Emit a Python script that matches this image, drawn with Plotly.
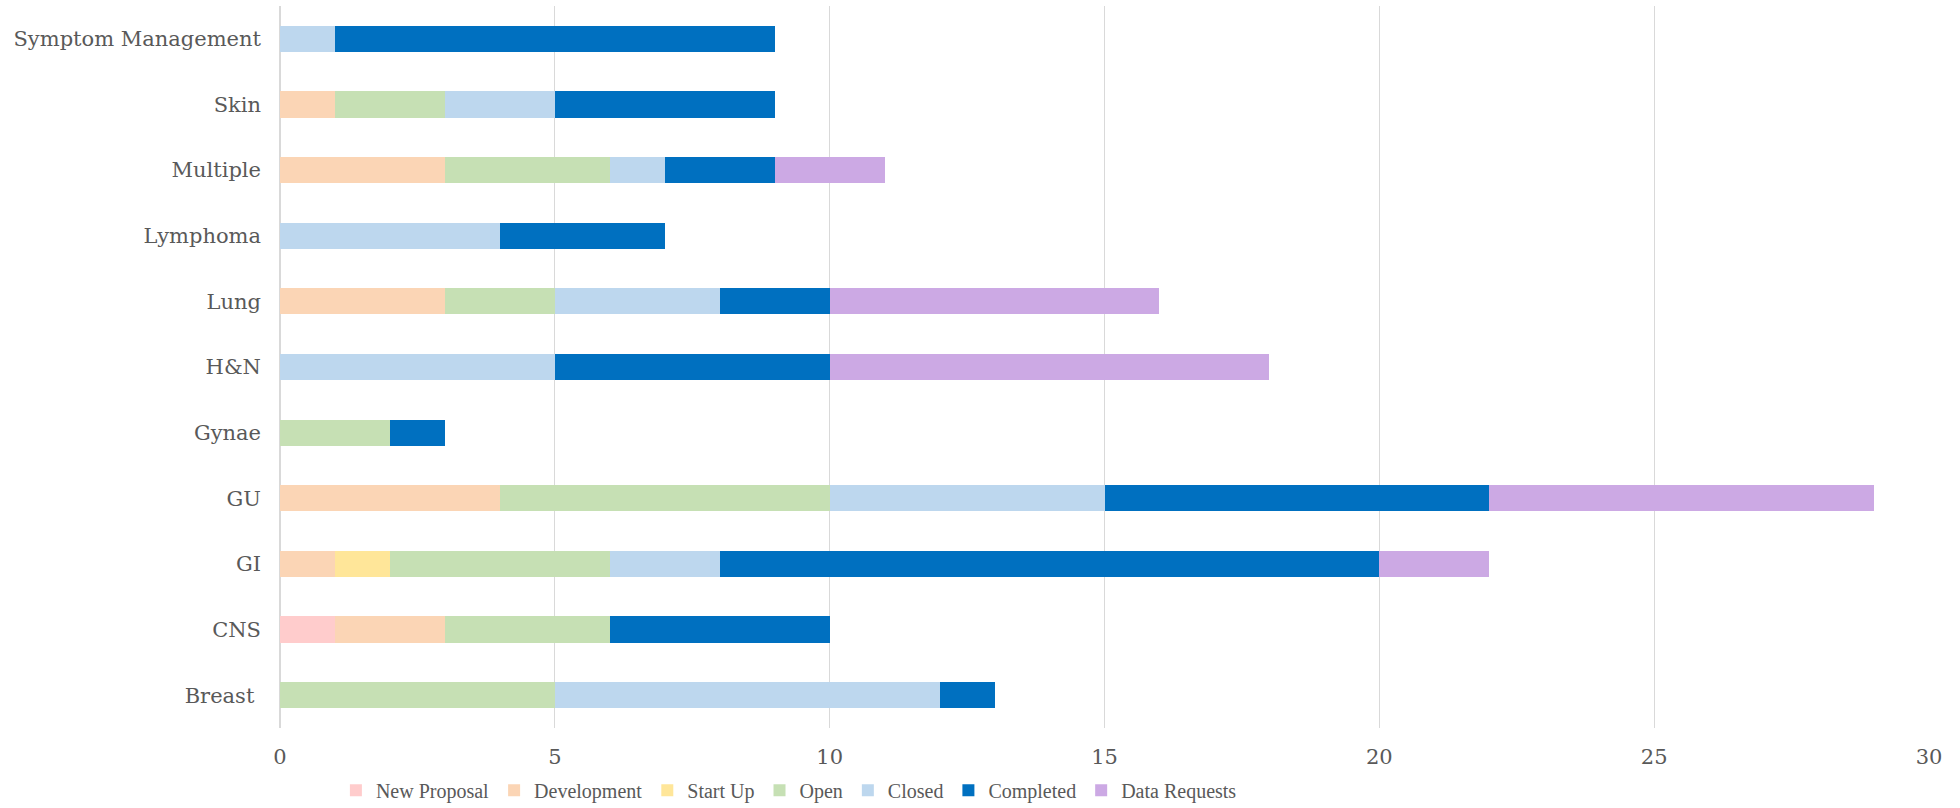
import plotly.graph_objects as go

categories = ["Breast ", "CNS", "GI", "GU", "Gynae", "H&N", "Lung", "Lymphoma", "Multiple", "Skin", "Symptom Management"]

new_proposal = [0, 1, 0, 0, 0, 0, 0, 0, 0, 0, 0]
development  = [0, 2, 1, 4, 0, 0, 3, 0, 3, 1, 0]
start_up     = [0, 0, 1, 0, 0, 0, 0, 0, 0, 0, 0]
open_        = [5, 3, 4, 6, 2, 0, 2, 0, 3, 2, 0]
closed       = [7, 0, 2, 5, 0, 5, 3, 4, 1, 2, 1]
completed    = [1, 4, 12, 7, 1, 5, 2, 3, 2, 4, 8]
data_requests= [0, 0, 2, 7, 0, 8, 6, 0, 2, 0, 0]

series = [
    ("New Proposal", new_proposal, "#FFCCCC"),
    ("Development", development, "#FBD5B5"),
    ("Start Up", start_up, "#FFE699"),
    ("Open", open_, "#C6E0B4"),
    ("Closed", closed, "#BDD7EE"),
    ("Completed", completed, "#0070C0"),
    ("Data Requests", data_requests, "#CCA9E4"),
]

fig = go.Figure()
for name, vals, col in series:
    fig.add_trace(go.Bar(
        y=categories, x=vals, name=name, orientation="h",
        marker=dict(color=col, line=dict(width=0)),
    ))

font_family = "Rockwell, DejaVu Serif, serif"
fig.update_layout(
    barmode="stack",
    bargap=0.6,
    width=1960, height=808,
    margin=dict(l=280, r=31, t=6, b=80),
    plot_bgcolor="white", paper_bgcolor="white",
    font=dict(family=font_family, color="#595959", size=21),
    xaxis=dict(range=[0, 30], dtick=5, showgrid=True, gridcolor="#D9D9D9",
               gridwidth=1, zeroline=True, zerolinecolor="#D9D9D9",
               showline=False, ticks="", tickfont=dict(size=21),
               ticklabelstandoff=14, fixedrange=True, automargin=False),
    yaxis=dict(showgrid=False, ticks="", tickfont=dict(size=21),
               ticklabelstandoff=18, showline=False, automargin=False),
    legend=dict(orientation="h", x=0.4025, xref="container", xanchor="center",
                y=0.022, yref="container", yanchor="middle",
                font=dict(size=20, color="#595959",
                          family="Liberation Serif, serif"),
                traceorder="normal", itemwidth=30),
    showlegend=True,
)

fig.write_html("out.html", post_script="document.body.style.margin='0';",
               config={"displayModeBar": False})
